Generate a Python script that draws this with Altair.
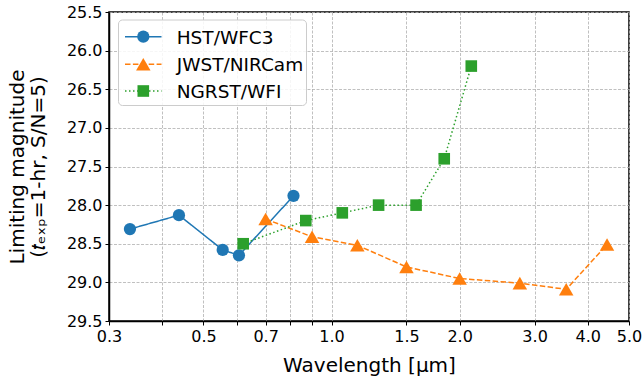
import altair as alt
import pandas as pd

# ---- data ----
hst_wl = [0.336, 0.438, 0.555, 0.606, 0.814]
hst_mag = [28.31, 28.13, 28.58, 28.65, 27.88]

jwst_wl = [0.70, 0.90, 1.15, 1.50, 2.00, 2.77, 3.56, 4.44]
jwst_mag = [28.18, 28.41, 28.52, 28.80, 28.95, 29.01, 29.09, 28.51]

ngrst_wl = [0.62, 0.87, 1.06, 1.29, 1.58, 1.84, 2.13]
ngrst_mag = [28.50, 28.20, 28.10, 28.00, 28.00, 27.40, 26.20]

names = ["HST/WFC3", "JWST/NIRCam", "NGRST/WFI"]
colors = ["#1f77b4", "#ff7f0e", "#2ca02c"]
shapes = ["circle", "triangle-up", "square"]
sizes = [150, 210, 135]
dashes = [[1, 0], [5.5, 2.4], [1.5, 2.5]]

x_ticks = [0.3, 0.4, 0.5, 0.6, 0.7, 0.8, 0.9, 1.0, 1.5, 2.0, 3.0, 4.0, 5.0]
x_unlabeled = [0.4, 0.6, 0.8, 0.9]
y_ticks = [25.5, 26.0, 26.5, 27.0, 27.5, 28.0, 28.5, 29.0, 29.5]

FONT = "DejaVu Sans"
W, H = 520, 309

series = [
    pd.DataFrame({"wl": hst_wl, "mag": hst_mag}),
    pd.DataFrame({"wl": jwst_wl, "mag": jwst_mag}),
    pd.DataFrame({"wl": ngrst_wl, "mag": ngrst_mag}),
]

grid = dict(grid=True, gridColor="#b0b0b0", gridDash=[3, 1.5], gridWidth=0.8)

x_enc = alt.X(
    "wl:Q",
    scale=alt.Scale(type="log", domain=[0.3, 5.0], nice=False),
    axis=alt.Axis(
        values=x_ticks,
        labelExpr="indexof(" + str(x_unlabeled) + ", datum.value) >= 0 ? '' : format(datum.value, '.1f')",
        title="Wavelength [μm]",
        titleY=50.5,
        titleBaseline="alphabetic",
        labelFlush=False,
        labelOverlap=False,
        **grid,
    ),
)
y_enc = alt.Y(
    "mag:Q",
    scale=alt.Scale(domain=[25.5, 29.5], reverse=True, nice=False, zero=False),
    axis=alt.Axis(
        values=y_ticks,
        format=".1f",
        title=["Limiting magnitude", "(𝑡ₑₓₚ=1-hr, S/N=5)"],
        titleX=-86,
        titleY=H / 2,
        titleAngle=-90,
        titleAlign="center",
        titleBaseline="alphabetic",
        titleLineHeight=21,
        labelOverlap=False,
        **grid,
    ),
)

layers = []
for df, c, s, sz, d in zip(series, colors, shapes, sizes, dashes):
    layers.append(
        alt.Chart(df).mark_line(color=c, strokeWidth=1.5, strokeDash=d).encode(x=x_enc, y=y_enc)
    )
    layers.append(
        alt.Chart(df)
        .mark_point(shape=s, filled=True, size=sz, opacity=1, color=c)
        .encode(x=x_enc, y=y_enc)
    )

# ---- legend (drawn in pixel space of the plot area) ----
one = pd.DataFrame({"k": [0]})
layers.append(
    alt.Chart(one)
    .mark_rect(fill="white", fillOpacity=0.85, stroke="#cccccc", strokeWidth=1, cornerRadius=4)
    .encode(x=alt.value(9.5), x2=alt.value(197.5), y=alt.value(8), y2=alt.value(93.5))
)
rows = [24.7, 52.3, 79.0]
for name, c, s, sz, d, ry in zip(names, colors, shapes, sizes, dashes, rows):
    layers.append(
        alt.Chart(one)
        .mark_rule(color=c, strokeWidth=1.5, strokeDash=d)
        .encode(x=alt.value(16), x2=alt.value(52.5), y=alt.value(ry))
    )
    layers.append(
        alt.Chart(one)
        .mark_point(shape=s, filled=True, size=sz, opacity=1, color=c)
        .encode(x=alt.value(34.3), y=alt.value(ry))
    )
    layers.append(
        alt.Chart(one)
        .mark_text(align="left", baseline="middle", font=FONT, fontSize=18.5, color="black")
        .encode(x=alt.value(67.7), y=alt.value(ry + 0.8), text=alt.value(name))
    )

chart = (
    alt.layer(*layers)
    .properties(
        width=W,
        height=H,
        padding={"left": 109, "top": 12, "right": 13, "bottom": 60},
        autosize=alt.AutoSizeParams(type="none"),
        background="white",
    )
    .configure_view(stroke="black", strokeWidth=1.5)
    .configure_axis(
        domainColor="black",
        domainWidth=1.5,
        tickColor="black",
        tickWidth=1,
        tickSize=4,
        labelPadding=3,
        labelFont=FONT,
        labelFontSize=16,
        labelColor="black",
        titleFont=FONT,
        titleFontSize=20,
        titleFontWeight="normal",
        titleColor="black",
    )
)

chart.save("out.html", embed_options={"renderer": "svg", "actions": False})
